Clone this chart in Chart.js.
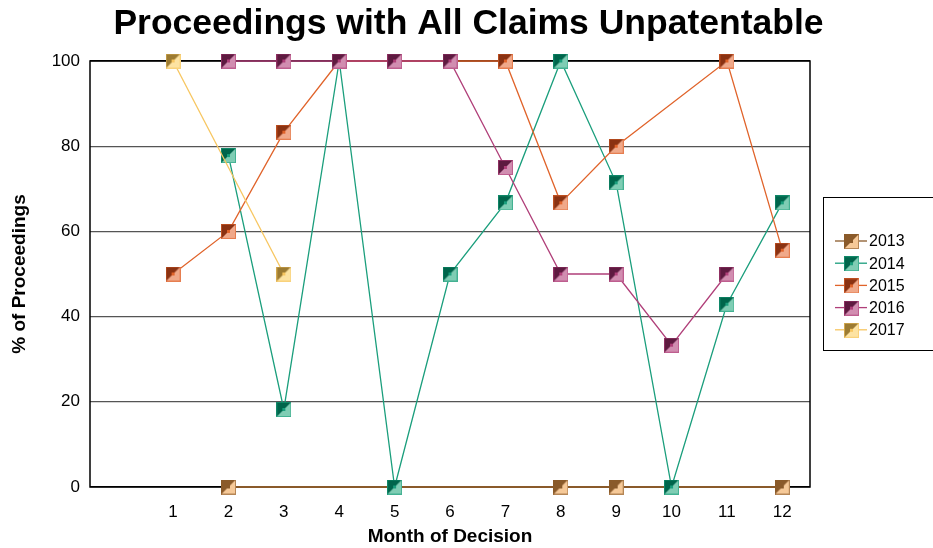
<!DOCTYPE html>
<html>
<head>
<meta charset="utf-8">
<script src="https://cdn.jsdelivr.net/npm/chart.js@4"></script>
<style>
  html, body { margin: 0; padding: 0; background: #fff; }
  #wrap { width: 933px; height: 548px; }
</style>
</head>
<body>
<div id="wrap"><canvas id="chart" width="933" height="548"></canvas></div>
<script>
// month labels (first slot is blank, like the reference)
const months = ['', '1', '2', '3', '4', '5', '6', '7', '8', '9', '10', '11', '12']
const years = ['2013', '2014', '2015', '2016', '2017']

// % of proceedings with all claims unpatentable, by month
const y2013 = [null, null, 0, null, null, null, null, null, 0, 0, null, null, 0]
const y2014 = [null, null, 77.8, 18.2, 100, 0, 50, 66.7, 100, 71.4, 0, 42.9, 66.7]
const y2015 = [null, 50, 60, 83.3, 100, 100, 100, 100, 66.7, 80, null, 100, 55.6]
const y2016 = [null, null, 100, 100, 100, 100, 100, 75, 50, 50, 33.3, 50, null]
const y2017 = [null, 100, null, 50, null, null, null, null, null, null, null, null, null]

const yTicks = [0, 20, 40, 60, 80, 100]
const chartTitle = 'Proceedings with All Claims Unpatentable'

// colours per year: [dark half, light half, line]
const palette = [
    ['#8a5a2a', '#f6c998', '#8a5a2a'],
    ['#00654b', '#7fcdb4', '#1a9e7c'],
    ['#8a3212', '#f0a98a', '#e0632a'],
    ['#5e1a40', '#d18db0', '#b03f79'],
    ['#9c7b32', '#fde3a2', '#f7c660']
]

const FONT = "'Liberation Sans', Arial, sans-serif"

// split square marker, dark upper-left / light lower-right
const makeMarker = (dark, light, line) => {
    const s = 15
    const c = document.createElement('canvas')
    c.width = s
    c.height = s
    const g = c.getContext('2d')
    g.fillStyle = light
    g.fillRect(0, 0, s, s)
    g.fillStyle = dark
    g.beginPath()
    g.moveTo(0, 0)
    g.lineTo(s, 0)
    g.lineTo(0, s)
    g.closePath()
    g.fill()
    g.strokeStyle = line
    g.globalAlpha = 0.6
    g.lineWidth = 1
    g.strokeRect(0.5, 0.5, s - 1, s - 1)
    g.globalAlpha = 1
    g.fillStyle = line
    g.fillRect(6, 6, 3, 3)
    return c
}

const markers = palette.map(p => makeMarker(p[0], p[1], p[2]))
const series = [y2013, y2014, y2015, y2016, y2017]

const datasets = years.map((yr, i) => ({
    label: yr,
    data: series[i],
    borderColor: palette[i][2],
    backgroundColor: palette[i][1],
    borderWidth: i === 0 ? 2 : 1.3,
    pointStyle: markers[i],
    pointRadius: 7,
    spanGaps: true,
    clip: false,
    tension: 0,
    order: years.length - i
}))

// black frame under the lines, title centred on the whole canvas
const framePlugin = {
    id: 'frame',
    beforeDatasetsDraw(chart) {
        const a = chart.chartArea
        const ctx = chart.ctx
        ctx.save()
        ctx.strokeStyle = '#000'
        ctx.lineWidth = 1.5
        ctx.strokeRect(a.left, a.top, a.right - a.left, a.bottom - a.top)
        ctx.fillStyle = '#000'
        ctx.font = 'bold 35.5px ' + FONT
        ctx.textAlign = 'center'
        ctx.textBaseline = 'middle'
        ctx.fillText(chartTitle, chart.width / 2 + 2, 24)
        ctx.restore()
    }
}

// boxed legend on the right
const legendPlugin = {
    id: 'boxLegend',
    afterDraw(chart) {
        const ctx = chart.ctx
        ctx.save()
        ctx.strokeStyle = '#000'
        ctx.lineWidth = 1
        ctx.strokeRect(823.5, 197.5, 130, 153)
        ctx.font = '16px ' + FONT
        ctx.textBaseline = 'middle'
        ctx.textAlign = 'left'
        chart.data.datasets.forEach((ds, i) => {
            const y = 241 + i * 22.2
            ctx.strokeStyle = ds.borderColor
            ctx.lineWidth = 1.3
            ctx.beginPath()
            ctx.moveTo(835, y)
            ctx.lineTo(867, y)
            ctx.stroke()
            ctx.drawImage(ds.pointStyle, 844, y - 7)
            ctx.fillStyle = '#000'
            ctx.fillText(ds.label, 869, y + 1)
        })
        ctx.restore()
    }
}

const context = document.getElementById('chart').getContext('2d')
const chart = new Chart(context, {
    type: 'line',
    data: {
        labels: months,
        datasets: datasets
    },
    options: {
        responsive: false,
        animation: false,
        devicePixelRatio: 1,
        layout: {
            padding: { left: 0, right: 123, top: 61, bottom: 0 }
        },
        scales: {
            x: {
                offset: true,
                grid: { display: false },
                border: { display: false },
                ticks: {
                    color: '#000',
                    font: { family: FONT, size: 17 },
                    padding: 7,
                    maxRotation: 0,
                    autoSkip: false
                },
                title: {
                    display: true,
                    text: 'Month of Decision',
                    color: '#000',
                    font: { family: FONT, size: 19, weight: 'bold' },
                    padding: { top: 2, bottom: 0 }
                },
                afterFit(scale) { scale.height = 61 }
            },
            y: {
                min: 0,
                max: 100,
                afterBuildTicks(scale) { scale.ticks = yTicks.map(v => ({ value: v })) },
                grid: {
                    color: ctx => (ctx.tick && (ctx.tick.value === 0 || ctx.tick.value === 100)) ? '#000' : '#555',
                    lineWidth: 1.3,
                    drawTicks: false
                },
                border: { display: false },
                ticks: {
                    color: '#000',
                    font: { family: FONT, size: 17 },
                    padding: 10
                },
                title: {
                    display: true,
                    text: '% of Proceedings',
                    color: '#000',
                    font: { family: FONT, size: 19, weight: 'bold' },
                    padding: { top: 8, bottom: 8 }
                },
                afterFit(scale) { scale.width = 90 }
            }
        },
        plugins: {
            legend: { display: false },
            tooltip: { enabled: false },
            title: { display: false }
        }
    },
    plugins: [framePlugin, legendPlugin]
})
</script>
</body>
</html>
